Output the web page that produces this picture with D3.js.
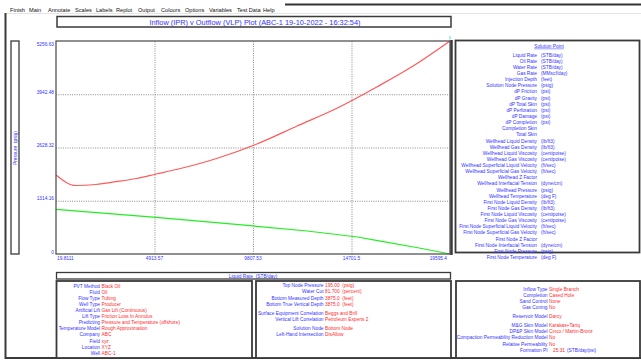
<!DOCTYPE html>
<html>
<head>
<meta charset="utf-8">
<script src="https://cdn.jsdelivr.net/npm/d3@7"></script>
<style>
  body { margin: 0; background: #fff; }
  svg { display: block; font-family: "Liberation Sans", Arial, sans-serif; }
  svg text { white-space: pre; }
</style>
</head>
<body>
<div id="chart"></div>
<script>
// ---- data ----
const vlpRates = [19.8111, 1000, 2000, 3000, 4000, 5000, 6000, 8000, 10000, 12000, 14000, 16000, 18000, 19595.4];
const vlpPressures = [1950, 1690, 1715, 1784, 1863, 1974, 2085, 2357, 2715, 3159, 3603, 4134, 4714, 5256.63];
const iprRates = [19.8111, 5000, 10000, 12500, 15000, 16000, 18000, 19595.4];
const iprPressures = [1103, 903, 684, 568, 420, 328, 155, 0];
const xTicks = [19.8111, 4913.57, 9807.53, 14701.5, 19595.4];
const yTicks = [0, 1314.16, 2628.32, 3942.48, 5256.63];

const menuItems = ["Finish", "Main", "Annotate", "Scales", "Labels", "Replot", "Output", "Colours", "Options", "Variables", "Test Data", "Help"];
const menuX = [10, 29, 48, 75, 96, 116, 138, 161, 185, 209, 237, 263];

const solutionLabels = ["Liquid Rate", "Oil Rate", "Water Rate", "Gas Rate", "Injection Depth", "Solution Node Pressure",
  "dP Friction", "dP Gravity", "dP Total Skin", "dP Perforation", "dP Damage", "dP Completion", "Completion Skin", "Total Skin",
  "Wellhead Liquid Density", "Wellhead Gas Density", "Wellhead Liquid Viscosity", "Wellhead Gas Viscosity",
  "Wellhead Superficial Liquid Velocity", "Wellhead Superficial Gas Velocity", "Wellhead Z Factor", "Wellhead Interfacial Tension",
  "Wellhead Pressure", "Wellhead Temperature", "First Node Liquid Density", "First Node Gas Density", "First Node Liquid Viscosity",
  "First Node Gas Viscosity", "First Node Superficial Liquid Velocity", "First Node Superficial Gas Velocity", "First Node Z Factor",
  "First Node Interfacial Tension", "First Node Pressure", "First Node Temperature"];
const solutionUnits = ["(STB/day)", "(STB/day)", "(STB/day)", "(MMscf/day)", "(feet)", "(psig)", "(psi)", "(psi)", "(psi)", "(psi)",
  "(psi)", "(psi)", "", "", "(lb/ft3)", "(lb/ft3)", "(centipoise)", "(centipoise)", "(ft/sec)", "(ft/sec)", "", "(dyne/cm)",
  "(psig)", "(deg F)", "(lb/ft3)", "(lb/ft3)", "(centipoise)", "(centipoise)", "(ft/sec)", "(ft/sec)", "", "(dyne/cm)", "(psig)", "(deg F)"];

const leftLabels = ["PVT Method", "Fluid", "Flow Type", "Well Type", "Artificial Lift", "Lift Type", "Predicting", "Temperature Model", "Company", "Field", "Location", "Well"];
const leftValues = ["Black Oil", "Oil", "Tubing", "Producer", "Gas Lift (Continuous)", "Friction Loss In Annulus", "Pressure and Temperature (offshore)", "Rough Approximation", "ABC", "xyz", "XYZ", "ABC-1"];

const midLabels = ["Top Node Pressure", "Water Cut", "Bottom Measured Depth", "Bottom True Vertical Depth", "Surface Equipment Correlation", "Vertical Lift Correlation", "Solution Node", "Left-Hand Intersection"];
const midValues = ["195.00  (psig)", "81.700  (percent)", "3875.0  (feet)", "3875.0  (feet)", "Beggs and Brill", "Petroleum Experts 2", "Bottom Node", "DisAllow"];
const midRows = [0, 1, 2, 3, 4.5, 5.5, 7, 8];

const rightLabels = ["Inflow Type", "Completion", "Sand Control", "Gas Coning", "Reservoir Model", "M&G Skin Model", "DP&P Skin Model", "Compaction Permeability Reduction Model", "Relative Permeability", "Formation PI"];
const rightValues = ["Single Branch", "Cased Hole", "None", "No", "Darcy", "Karakas+Tariq", "Cinco / Martin-Bronz", "No", "No", "   25.31"];
const rightRows = [0, 1, 2, 3, 4.5, 6, 7, 8, 9, 10];

// ---- drawing ----
const blue = "#3333ff", red = "#ff2a2a", frame = "#3a3a3a";

const svg = d3.select("#chart").append("svg")
  .attr("width", 641)
  .attr("height", 360);

svg.append("rect").attr("width", 641).attr("height", 360).attr("fill", "#fff");

// window chrome
svg.append("line").attr("x1", 285).attr("x2", 641).attr("y1", 4.5).attr("y2", 4.5).attr("stroke", "#333").attr("stroke-width", 2);
svg.append("line").attr("x1", 5).attr("x2", 641).attr("y1", 13.5).attr("y2", 13.5).attr("stroke", "#e4e4e4").attr("stroke-width", 1);
svg.append("line").attr("x1", 5.5).attr("x2", 5.5).attr("y1", 13).attr("y2", 359).attr("stroke", frame).attr("stroke-width", 2);
svg.append("line").attr("x1", 5).attr("x2", 641).attr("y1", 358).attr("y2", 358).attr("stroke", frame).attr("stroke-width", 2);

svg.append("g").selectAll("text").data(menuItems).join("text")
  .attr("x", (d, i) => menuX[i]).attr("y", 10)
  .attr("dy", "0.35em")
  .attr("font-size", 5.6).attr("fill", "#111")
  .text(d => d);

// title
svg.append("rect").attr("x", 57).attr("y", 16.5).attr("width", 394).attr("height", 10.5)
  .attr("fill", "#fff").attr("stroke", frame).attr("stroke-width", 1.5);
svg.append("text").attr("x", 255).attr("y", 22).attr("dy", "0.35em").attr("text-anchor", "middle")
  .attr("font-size", 7.4).attr("fill", blue)
  .text("Inflow (IPR) v Outflow (VLP) Plot (ABC-1 19-10-2022 - 16:32:54)");

// y label box
svg.append("rect").attr("x", 11).attr("y", 41).attr("width", 8).attr("height", 213)
  .attr("fill", "#fff").attr("stroke", frame).attr("stroke-width", 1.3);
svg.append("text").attr("transform", "translate(15,148) rotate(-90)")
  .attr("dy", "0.35em").attr("text-anchor", "middle")
  .attr("font-size", 4.8).attr("fill", blue).text("Pressure  (psig)");

// plot
const margin = {left: 56, right: 450, top: 41, bottom: 254};
const x = d3.scaleLinear().domain([xTicks[0], xTicks[4]]).range([margin.left, margin.right]);
const y = d3.scaleLinear().domain([0, yTicks[4]]).range([margin.bottom, margin.top]);

// grid
svg.append("g").attr("transform", "translate(0," + margin.bottom + ")")
  .call(d3.axisBottom(x).tickValues(xTicks.slice(1, 4)).tickSize(margin.top - margin.bottom).tickFormat(""))
  .call(g => g.select(".domain").remove())
  .selectAll("line").attr("stroke", "#8a8a8a").attr("stroke-dasharray", "1,1.3");
svg.append("g").attr("transform", "translate(" + margin.left + ",0)")
  .call(d3.axisLeft(y).tickValues(yTicks.slice(1, 4)).tickSize(margin.left - margin.right).tickFormat(""))
  .call(g => g.select(".domain").remove())
  .selectAll("line").attr("stroke", "#8a8a8a").attr("stroke-dasharray", "1,1.3");

// tick labels
svg.append("g").selectAll("text").data(yTicks).join("text")
  .attr("x", 54)
  .attr("y", (d, i) => y(d) + (i === 4 ? 3 : -2))
  .attr("dy", "0.35em").attr("text-anchor", "end")
  .attr("font-size", 4.8).attr("fill", blue)
  .text(d => d === 0 ? "0" : d3.format(".2f")(d));
svg.append("g").selectAll("text").data(xTicks).join("text")
  .attr("x", (d, i) => i === 0 ? x(d) + 1 : i === 4 ? x(d) - 3 : x(d))
  .attr("y", 258.5)
  .attr("dy", "0.35em")
  .attr("text-anchor", (d, i) => i === 0 ? "start" : i === 4 ? "end" : "middle")
  .attr("font-size", 4.8).attr("fill", blue)
  .text(d => d);

// curves
const line = d3.line().x(d => x(d[0])).y(d => y(d[1]));
svg.append("path").datum(iprRates.map((r, i) => [r, iprPressures[i]]))
  .attr("d", line).attr("fill", "none").attr("stroke", "#22ee22").attr("stroke-width", 1.2);
svg.append("path").datum(vlpRates.map((r, i) => [r, vlpPressures[i]]))
  .attr("d", d3.line().x(d => x(d[0])).y(d => y(d[1])).curve(d3.curveMonotoneX))
  .attr("fill", "none").attr("stroke", "#ff5a5a").attr("stroke-width", 1.2);

// plot frame
svg.append("rect").attr("x", margin.left).attr("y", margin.top)
  .attr("width", margin.right - margin.left).attr("height", margin.bottom - margin.top)
  .attr("fill", "none").attr("stroke", "#555").attr("stroke-width", 1.3);
svg.append("line").attr("x1", 451.5).attr("x2", 451.5).attr("y1", 40).attr("y2", 255)
  .attr("stroke", frame).attr("stroke-width", 2.5);
svg.append("line").attr("x1", 450).attr("x2", 450).attr("y1", 36).attr("y2", 39.5)
  .attr("stroke", "#55dddd").attr("stroke-width", 1);

// solution point panel
svg.append("rect").attr("x", 455.5).attr("y", 40.5).attr("width", 184).attr("height", 212)
  .attr("fill", "#fff").attr("stroke", frame).attr("stroke-width", 1.8);
svg.append("text").attr("x", 549).attr("y", 46).attr("dy", "0.35em").attr("text-anchor", "middle")
  .attr("font-size", 4.8).attr("fill", blue).attr("text-decoration", "underline").text("Solution Point");
const sol = svg.append("g");
sol.selectAll("text.lab").data(solutionLabels).join("text").attr("class", "lab")
  .attr("x", 537).attr("y", (d, i) => 55 + i * 6.13).attr("dy", "0.35em")
  .attr("text-anchor", "end").attr("font-size", 4.8).attr("fill", blue).text(d => d);
sol.selectAll("text.unit").data(solutionUnits).join("text").attr("class", "unit")
  .attr("x", 541).attr("y", (d, i) => 55 + i * 6.13).attr("dy", "0.35em")
  .attr("font-size", 4.8).attr("fill", blue).text(d => d);

// liquid rate box
svg.append("rect").attr("x", 56.5).attr("y", 272.5).attr("width", 394).attr("height", 6.5)
  .attr("fill", "#fff").attr("stroke", frame).attr("stroke-width", 1.3);
svg.append("text").attr("x", 253).attr("y", 276).attr("dy", "0.35em").attr("text-anchor", "middle")
  .attr("font-size", 4.8).attr("fill", blue).text("Liquid Rate  (STB/day)");

// bottom panels
[[56.5, 195.5], [256, 195], [456, 184]].forEach(p => {
  svg.append("rect").attr("x", p[0]).attr("y", 281).attr("width", p[1]).attr("height", 77)
    .attr("fill", "#fff").attr("stroke", frame).attr("stroke-width", 1.8);
});

function panel(labels, values, rows, y0, xl, xv) {
  const g = svg.append("g");
  g.selectAll("text.l").data(labels).join("text").attr("class", "l")
    .attr("x", xl).attr("y", (d, i) => y0 + rows[i] * 6.1).attr("dy", "0.35em")
    .attr("text-anchor", "end").attr("font-size", 4.8).attr("fill", blue).text(d => d);
  g.selectAll("text.v").data(values).join("text").attr("class", "v")
    .attr("x", xv).attr("y", (d, i) => y0 + rows[i] * 6.1).attr("dy", "0.35em")
    .attr("font-size", 4.8).attr("fill", red).text(d => d);
  return g;
}
panel(leftLabels, leftValues, leftLabels.map((d, i) => i), 286, 100, 101.5);
panel(midLabels, midValues, midRows, 285.7, 323.5, 325);
const rp = panel(rightLabels, rightValues, rightRows, 289, 547.5, 549);
rp.append("text").attr("x", 567).attr("y", 289 + 10 * 6.1).attr("dy", "0.35em")
  .attr("font-size", 4.8).attr("fill", blue).text("(STB/day/psi)");
</script>
</body>
</html>
